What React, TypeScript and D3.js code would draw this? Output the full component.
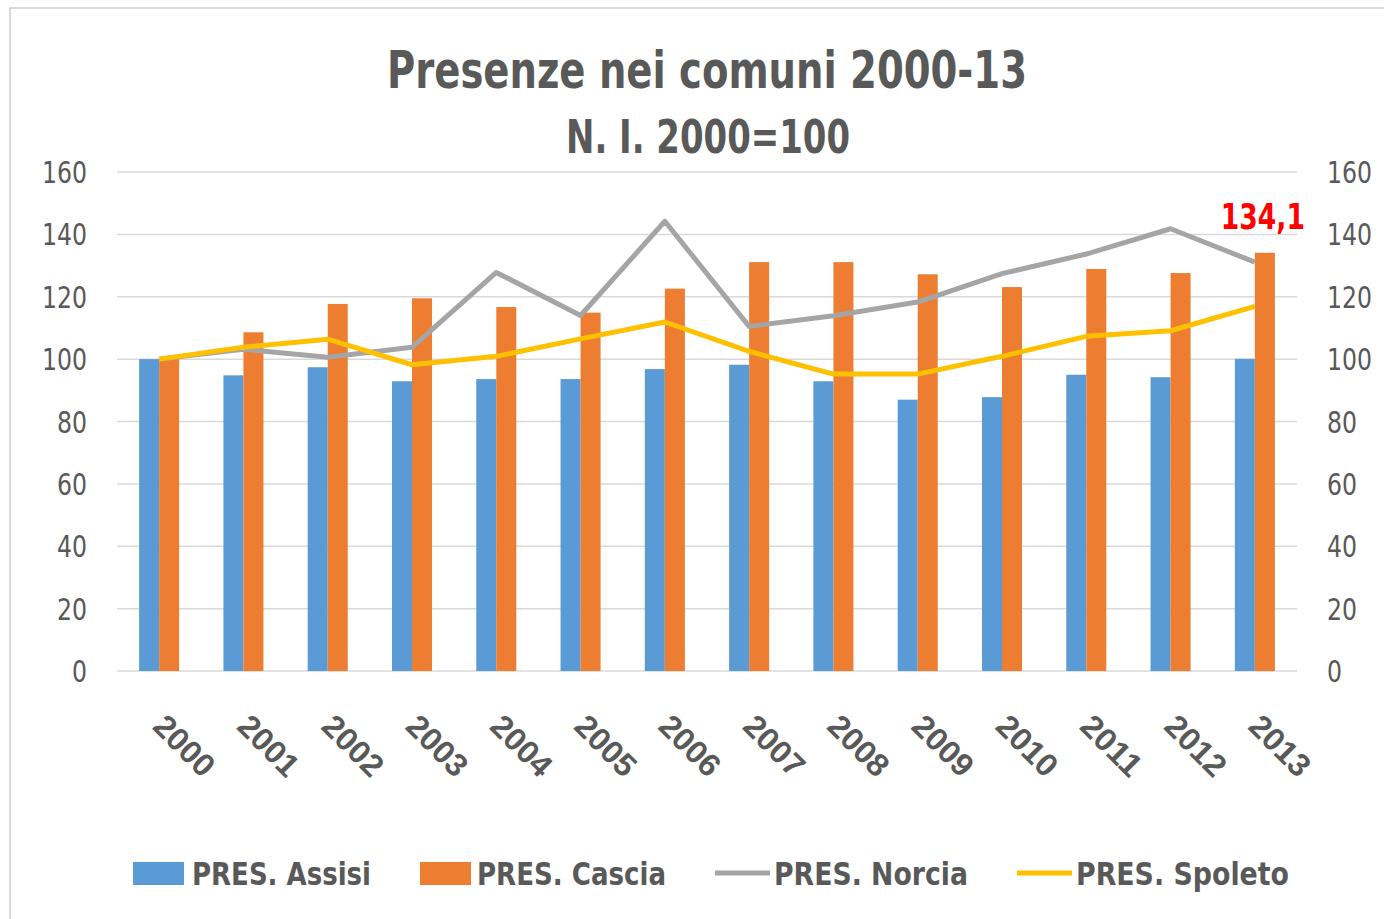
import React, { useEffect, useRef } from 'react';
import * as d3 from 'd3';

const years = ['2000', '2001', '2002', '2003', '2004', '2005', '2006', '2007', '2008', '2009', '2010', '2011', '2012', '2013'];

// Index numbers, 2000 = 100
const assisi = [100, 94.8, 97.4, 92.9, 93.6, 93.6, 96.8, 98.2, 92.9, 87.0, 87.8, 95.0, 94.2, 100.1];
const cascia = [100, 108.6, 117.7, 119.5, 116.7, 114.9, 122.6, 131.1, 131.1, 127.2, 123.1, 128.9, 127.6, 134.1];
const norcia = [100, 103.2, 100.6, 103.8, 127.8, 114.0, 144.2, 110.5, 113.9, 118.3, 127.4, 133.7, 141.8, 131.1];
const spoleto = [100, 103.8, 106.4, 98.2, 100.9, 106.5, 111.9, 102.5, 95.2, 95.2, 100.9, 107.3, 109.1, 116.9];

const yTicks = [0, 20, 40, 60, 80, 100, 120, 140, 160];

const barSeries = [
  { name: 'PRES. Assisi', values: assisi, color: '#5b9bd5' },
  { name: 'PRES. Cascia', values: cascia, color: '#ed7d31' },
];
const lineSeries = [
  { name: 'PRES. Norcia', values: norcia, color: '#a5a5a5' },
  { name: 'PRES. Spoleto', values: spoleto, color: '#ffc000' },
];

const NARROW = "'Liberation Sans Narrow', 'DejaVu Sans Condensed', 'Liberation Sans', sans-serif";
const TEXT = '#595959';

const Chart: React.FC = () => {
  const ref = useRef<SVGSVGElement>(null);

  useEffect(() => {
    if (!ref.current) return;
    const svg = d3.select(ref.current);
    svg.selectAll('*').remove();

    const width = 1384;
    const height = 919;
    const left = 117;
    const right = 1297;
    const top = 172;
    const bottom = 671;

    svg.append('rect').attr('width', width).attr('height', height).attr('fill', '#fff');

    // chart frame (only top and left edges are visible in the picture)
    svg.append('rect')
      .attr('x', 10).attr('y', 8)
      .attr('width', width + 20).attr('height', height + 20)
      .attr('fill', 'none').attr('stroke', '#d9d9d9').attr('stroke-width', 2);

    // Title
    svg.append('text')
      .attr('x', 707).attr('y', 88)
      .attr('text-anchor', 'middle')
      .attr('textLength', 640).attr('lengthAdjust', 'spacingAndGlyphs')
      .style('font-family', NARROW).style('font-size', '52px').style('font-weight', 'bold')
      .attr('fill', TEXT)
      .text('Presenze nei comuni 2000-13');
    svg.append('text')
      .attr('x', 708).attr('y', 153)
      .attr('text-anchor', 'middle')
      .attr('textLength', 284).attr('lengthAdjust', 'spacingAndGlyphs')
      .style('font-family', NARROW).style('font-size', '46px').style('font-weight', 'bold')
      .attr('fill', TEXT)
      .text('N. I. 2000=100');

    const x = d3.scaleBand().domain(years).range([left, right]).paddingInner(0.525).paddingOuter(0.2625);
    const xSub = d3.scaleBand().domain(barSeries.map(s => s.name)).range([0, x.bandwidth()]);
    const y = d3.scaleLinear().domain([0, 160]).range([bottom, top]);

    // gridlines
    svg.append('g')
      .selectAll('line')
      .data(yTicks)
      .join('line')
      .attr('x1', left).attr('x2', right)
      .attr('y1', d => y(d)).attr('y2', d => y(d))
      .attr('stroke', '#d9d9d9').attr('stroke-width', 1.5);

    // left + right axis labels
    const tickLabels = (xPos: number, anchor: string) => {
      svg.append('g')
        .selectAll('text')
        .data(yTicks)
        .join('text')
        .attr('x', xPos).attr('y', d => y(d) + 11)
        .attr('text-anchor', anchor)
        .attr('textLength', d => String(d).length * 15)
        .attr('lengthAdjust', 'spacingAndGlyphs')
        .style('font-family', NARROW).style('font-size', '31px')
        .attr('fill', TEXT)
        .text(d => d);
    };
    tickLabels(87, 'end');
    tickLabels(1327, 'start');

    // bars
    barSeries.forEach(s => {
      svg.append('g')
        .selectAll('rect')
        .data(s.values)
        .join('rect')
        .attr('x', (_, i) => (x(years[i]) ?? 0) + (xSub(s.name) ?? 0))
        .attr('y', d => y(d))
        .attr('width', xSub.bandwidth())
        .attr('height', d => bottom - y(d))
        .attr('fill', s.color);
    });

    // lines
    const cx = (i: number) => (x(years[i]) ?? 0) + x.bandwidth() / 2;
    lineSeries.forEach(s => {
      const line = d3.line<number>().x((_, i) => cx(i)).y(d => y(d));
      svg.append('path')
        .attr('d', line(s.values)!)
        .attr('fill', 'none')
        .attr('stroke', s.color)
        .attr('stroke-width', 5)
        .attr('stroke-linejoin', 'round');
    });

    // data label on the last Cascia bar
    const last = cascia.length - 1;
    svg.append('text')
      .attr('x', (x(years[last]) ?? 0) + (xSub('PRES. Cascia') ?? 0) + xSub.bandwidth() / 2 - 2)
      .attr('y', y(cascia[last]) - 24)
      .attr('text-anchor', 'middle')
      .attr('textLength', 84).attr('lengthAdjust', 'spacingAndGlyphs')
      .style('font-family', NARROW).style('font-size', '36px').style('font-weight', 'bold')
      .attr('fill', '#ff0000')
      .text(String(cascia[last]).replace('.', ','));

    // category labels, rotated 45°
    svg.append('g')
      .selectAll('text')
      .data(years)
      .join('text')
      .attr('transform', d => `translate(${(x(d) ?? 0) + x.bandwidth() / 2 - 8},${bottom + 57}) rotate(45)`)
      .attr('textLength', 72).attr('lengthAdjust', 'spacingAndGlyphs')
      .style('font-family', "'Liberation Sans', sans-serif").style('font-size', '32px')
      .style('font-weight', 'bold')
      .attr('fill', TEXT)
      .text(d => d);

    // legend
    const legendItems = [
      { s: barSeries[0], kind: 'bar', x0: 133, tx: 192, tw: 179 },
      { s: barSeries[1], kind: 'bar', x0: 420, tx: 477, tw: 189 },
      { s: lineSeries[0], kind: 'line', x0: 715, tx: 774, tw: 194 },
      { s: lineSeries[1], kind: 'line', x0: 1017, tx: 1076, tw: 213 },
    ];
    const legendY = 873;
    legendItems.forEach(it => {
      if (it.kind === 'bar') {
        svg.append('rect')
          .attr('x', it.x0).attr('y', legendY - 11)
          .attr('width', 51).attr('height', 23)
          .attr('fill', it.s.color);
      } else {
        svg.append('line')
          .attr('x1', it.x0).attr('x2', it.x0 + 55)
          .attr('y1', legendY).attr('y2', legendY)
          .attr('stroke', it.s.color).attr('stroke-width', 5);
      }
      svg.append('text')
        .attr('x', it.tx).attr('y', legendY + 12)
        .attr('textLength', it.tw).attr('lengthAdjust', 'spacingAndGlyphs')
        .style('font-family', NARROW).style('font-size', '32px').style('font-weight', 'bold')
        .attr('fill', TEXT)
        .text(it.s.name);
    });
  }, []);

  return <svg ref={ref} width={1384} height={919} style={{ display: 'block' }}></svg>;
};

export default function App() {
  return (
    <div style={{ position: 'absolute', left: 0, top: 0 }}>
      <Chart />
    </div>
  );
}
